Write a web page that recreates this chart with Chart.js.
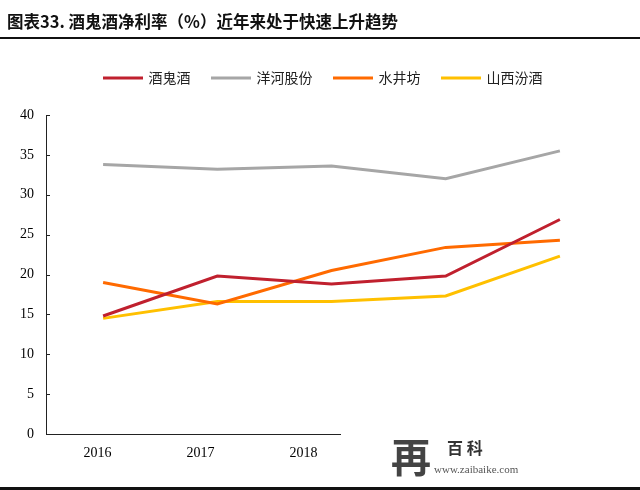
<!DOCTYPE html>
<html>
<head>
<meta charset="utf-8">
<script src="https://cdn.jsdelivr.net/npm/chart.js@4"></script>
<style>
  body { margin: 0; background: #fff; }
  #wrap { position: relative; width: 640px; height: 490px; overflow: hidden; }
  #title {
    position: absolute; left: 7px; top: 9px;
    font: bold 16.5px "Noto Sans CJK SC", sans-serif; color: #111; white-space: nowrap;
  }
  #topline { position: absolute; left: 0; top: 37px; width: 640px; height: 2px; background: #111; }
  #botline { position: absolute; left: 0; top: 487px; width: 640px; height: 3px; background: #111; }
  canvas { position: absolute; left: 0; top: 0; }
</style>
</head>
<body>
<div id="wrap">
  <canvas id="c" width="640" height="490"></canvas>
  <div id="title">图表33. 酒鬼酒净利率（%）近年来处于快速上升趋势</div>
  <div id="topline"></div>
  <div id="botline"></div>
</div>
<script>
const years = ['2016', '2017', '2018', '2019', '2020'];
const jiuguijiu = [14.8, 19.8, 18.8, 19.8, 26.9];
const yanghe = [33.8, 33.2, 33.6, 32.0, 35.5];
const shuijingfang = [19.0, 16.3, 20.5, 23.4, 24.3];
const fenjiu = [14.5, 16.6, 16.6, 17.3, 22.3];

const serif = '"Liberation Serif", "Times New Roman", serif';
const cjk = '"Noto Sans CJK SC", sans-serif';

// taller legend so the plot starts lower, and nudge it right a bit
const legendGap = {
  id: 'legendGap',
  beforeInit(chart) {
    const fit = chart.legend.fit;
    chart.legend.fit = function () {
      fit.bind(chart.legend)();
      this.height += 20;
    };
  },
  afterLayout(chart) {
    chart.legend.left += 15;
    chart.legend.right += 15;
  }
};

// inward y ticks + the site watermark that hides the end of the x axis
const overlay = {
  id: 'overlay',
  afterDraw(chart) {
    const ctx = chart.ctx;
    const y = chart.scales.y;
    const left = chart.chartArea.left;
    ctx.save();
    ctx.strokeStyle = '#222';
    ctx.lineWidth = 1;
    y.ticks.forEach(t => {
      const py = Math.round(y.getPixelForValue(t.value)) + 0.5;
      ctx.beginPath();
      ctx.moveTo(left, py);
      ctx.lineTo(left + 4, py);
      ctx.stroke();
    });
    ctx.fillStyle = '#fff';
    ctx.fillRect(341, 428, 299, 57);
    ctx.fillStyle = '#444';
    ctx.font = 'bold 40px ' + cjk;
    ctx.textBaseline = 'middle';
    ctx.fillText('再', 391, 457);
    ctx.fillStyle = '#333';
    ctx.font = 'bold 16px ' + cjk;
    ctx.fillText('百 科', 447, 448);
    ctx.fillStyle = '#555';
    ctx.font = '11px ' + serif;
    ctx.fillText('www.zaibaike.com', 434, 470);
    ctx.restore();
  }
};

const mk = (label, data, color) => ({
  label, data,
  borderColor: color, backgroundColor: color,
  borderWidth: 3, pointRadius: 0, tension: 0, fill: false
});

new Chart(document.getElementById('c'), {
  type: 'line',
  data: {
    labels: years,
    datasets: [
      mk('酒鬼酒', jiuguijiu, '#C0202E'),
      mk('洋河股份', yanghe, '#A6A6A6'),
      mk('水井坊', shuijingfang, '#FF6A00'),
      mk('山西汾酒', fenjiu, '#FFC000')
    ]
  },
  options: {
    responsive: false,
    animation: false,
    layout: { padding: { top: 49, right: 23, bottom: 0, left: 0 } },
    plugins: {
      legend: {
        position: 'top',
        labels: {
          boxWidth: 37, boxHeight: 0.01, padding: 22,
          color: '#222',
          font: { size: 14, family: cjk }
        }
      },
      tooltip: { enabled: false }
    },
    scales: {
      x: {
        offset: true,
        weight: 0,
        afterFit: s => { s.height = 0; },
        grid: { display: false, drawTicks: false },
        border: { color: '#222', width: 1 },
        ticks: { display: false }
      },
      // year labels sit on their own axis, spaced tighter than the points (as in the source image)
      xl: {
        type: 'linear',
        position: 'bottom',
        weight: 1,
        min: -0.5, max: 5.044,
        afterBuildTicks: s => { s.ticks = years.map((_, i) => ({ value: i })); },
        afterFit: s => { s.height = 56; },
        grid: { display: false, drawTicks: false },
        border: { display: false },
        ticks: {
          padding: 11, color: '#000', font: { size: 14, family: serif },
          callback: v => years[v]
        }
      },
      y: {
        min: 0, max: 40,
        afterFit: s => { s.width = 46; },
        grid: { display: false, drawTicks: false },
        border: { color: '#222', width: 1 },
        ticks: { stepSize: 5, padding: 12, color: '#000', font: { size: 14, family: serif } }
      }
    }
  },
  plugins: [legendGap, overlay]
});
</script>
</body>
</html>
